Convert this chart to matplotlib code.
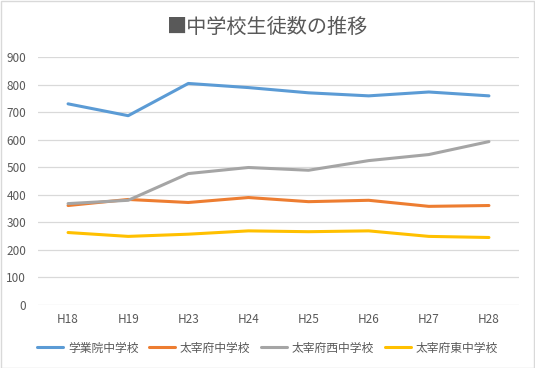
import matplotlib
matplotlib.use("Agg")
import matplotlib.pyplot as plt
from matplotlib.patches import Rectangle

plt.rcParams['font.family'] = ['Noto Sans CJK JP', 'DejaVu Sans']

categories = ["H18", "H19", "H23", "H24", "H25", "H26", "H27", "H28"]
series_names = ["学業院中学校", "太宰府中学校", "太宰府西中学校", "太宰府東中学校"]
gakugyoin = [730, 687, 804, 789, 770, 759, 773, 759]
dazaifu = [361, 383, 372, 390, 375, 380, 358, 361]
dazaifu_nishi = [368, 380, 477, 499, 489, 524, 546, 593]
dazaifu_higashi = [263, 249, 257, 269, 266, 269, 249, 245]
yticks = [0, 100, 200, 300, 400, 500, 600, 700, 800, 900]
colors = ["#5B9BD5", "#ED7D31", "#A5A5A5", "#FFC000"]

W, H = 535, 368
fig = plt.figure(figsize=(W / 100, H / 100), dpi=100)
fig.patches.append(Rectangle((0.5 / W, 0.5 / H), 1 - 1.5 / W, 1 - 1.5 / H,
                             transform=fig.transFigure, fill=False,
                             edgecolor="#D9D9D9", linewidth=1.0))

ax = fig.add_axes([38 / W, 1 - 305 / H, (519 - 38) / W, (305 - 57) / H])
x = list(range(len(categories)))
for vals, name, c in zip([gakugyoin, dazaifu, dazaifu_nishi, dazaifu_higashi],
                         series_names, colors):
    ax.plot(x, vals, color=c, linewidth=2.2, label=name,
            solid_capstyle="round", solid_joinstyle="round")

ax.set_xlim(-0.5, len(categories) - 0.5)
ax.set_ylim(0, 900)
ax.set_yticks(yticks)
ax.set_xticks(x)
ax.set_xticklabels(categories)
ax.grid(axis="y", color="#D9D9D9", linewidth=0.9)
ax.set_axisbelow(True)
for s in ax.spines.values():
    s.set_visible(False)
ax.tick_params(axis="both", length=0, labelsize=8.5, labelcolor="#595959")
ax.tick_params(axis="x", pad=6)
ax.tick_params(axis="y", pad=8.5)

fig.text(0.5, 1 - 27 / H, "■中学校生徒数の推移", color="#595959",
         fontsize=14.5, ha="center", va="center")

fig.legend(loc="center", bbox_to_anchor=(0.5, 1 - 348 / H), ncol=4,
           frameon=False, fontsize=8.5, labelcolor="#595959",
           handlelength=2.2, handletextpad=0.4, columnspacing=0.9)

fig.savefig("out.png", dpi=100)
